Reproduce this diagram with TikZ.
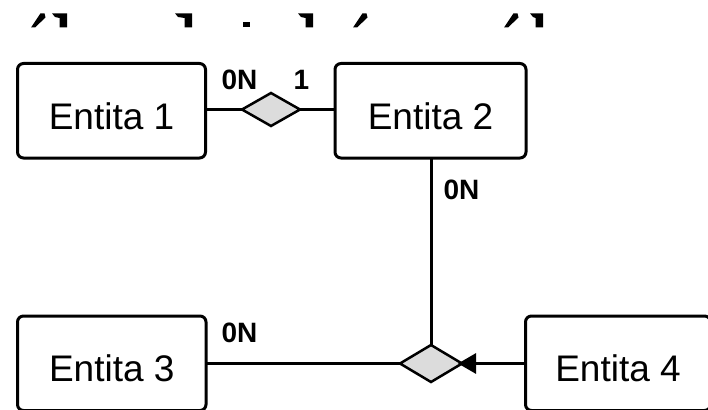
\documentclass[tikz,border=0pt]{standalone}
\usepackage{fontspec}
\setmainfont{Liberation Sans}
\usetikzlibrary{shapes.geometric,arrows.meta}
\definecolor{relfill}{HTML}{DCDCDC}
\tikzset{
  entity/.style={draw=black, line width=3pt, rounded corners=6pt, inner sep=0pt, outer sep=0pt,
    font=\fontsize{37}{40}\selectfont, text height=37pt, text depth=0pt},
  relation/.style={diamond, draw=black, line width=2.5pt, fill=relfill, inner sep=0pt, outer sep=0pt},
  conn/.style={line width=3pt},
  card/.style={font=\bfseries\fontsize{28}{30}\selectfont, inner sep=0pt, anchor=base},
  frag/.style={fill=black, draw=none},
}
\begin{document}
\begin{tikzpicture}[x=1pt,y=-1pt]
\useasboundingbox (0,0) rectangle (708,409);
% cropped glyph fragments along the top edge
\foreach \s in {31,353,504}{
  \fill[frag] (\s,27.5) -- (\s+4,27.5) -- (\s+14.5,17.5) -- (\s+13.5,13.3) -- (\s+9.5,13.3) -- cycle;
}
\foreach \a/\b in {52/67,175/192,298/313,530/543}{
  \fill[frag] (\a,13.3) -- (\b,13.3) -- (\b,27.5) -- (\b-7.5,27.5) -- (\b-7.5,18) -- (\a+3,17) -- cycle;
}
\fill[frag] (243,22) rectangle (250,27.5);

% entities
\node[entity, minimum width=188pt, minimum height=94.5pt] (e1) at (111.5,110.75) {Entita 1};
\node[entity, minimum width=191pt, minimum height=94.5pt] (e2) at (430.5,110.75) {Entita 2};
\node[entity, minimum width=188.5pt, minimum height=94.5pt] (e3) at (111.75,363.25) {Entita 3};
\node[entity, minimum width=185pt, minimum height=94.5pt] (e4) at (618,363.25) {Entita 4};

% relationships
\node[relation, minimum width=58pt, minimum height=33pt] (d1) at (271,109.5) {};
\node[relation, minimum width=62pt, minimum height=37pt] (d2) at (431,363.5) {};

% connectors
\draw[conn] (d1.west -| e1.east) -- (d1.west);
\draw[conn] (d1.east) -- (d1.east -| e2.west);
\draw[conn] (d2.north) -- (d2.north |- e2.south);
\draw[conn] (d2.west -| e3.east) -- (d2.west);
\draw[conn, -{Triangle[length=18pt,width=20pt]}, shorten >=-4pt] (d2.east -| e4.west) -- (d2.east);

% cardinalities
\node[card] (c1) at (239.5,89) {0N};
\node[card] (c2) at (301.5,89) {1};
\node[card] (c3) at (461.5,199) {0N};
\node[card] (c4) at (239.5,342) {0N};
\end{tikzpicture}
\end{document}
